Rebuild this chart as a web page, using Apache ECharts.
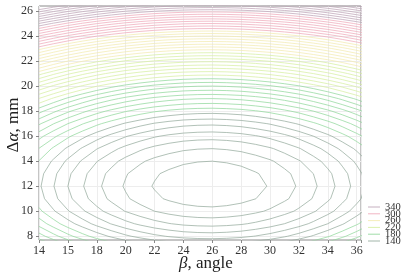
<!DOCTYPE html>
<html><head><meta charset="utf-8">
<script src="https://cdn.jsdelivr.net/npm/echarts@6/dist/echarts.min.js"></script>
<style>html,body{margin:0;padding:0;background:#fff}#c{width:411px;height:274px}</style>
</head><body><div id="c"></div>
<script>
// ---- data ----
// surface z(beta, alpha) = baseLevel + betaTerm(beta) + alphaTerm(alpha)
const baseLevel = 141;
const betaNodes = [14,15,16,17,18,19,20,21,22,23,24,25,26,27,28,29,30,31,32,33,34,35,36,37];
const betaTerm  = [34.8,29.2,24.0,19.4,15.2,11.6,8.4,5.8,3.6,2.0,0.8,0.2,0.0,0.4,1.2,2.6,4.4,6.8,9.6,13.0,16.8,21.2,26.0,31.4];
const alphaNodes = [7,8,9,10,11,12,13,14,15,16,17,18,19,20,21,22,23,24,25,26,27];
const alphaTerm  = [33.8,21.6,12.2,5.4,1.35,0,1,4,9,16,25,36,49,64,81,100,121,144,169,196,225];
const contourLevels = [145,150,155,160,165,170,175,180,185,190,195,200,205,210,215,220,225,230,235,240,245,250,255,260,265,270,275,280,285,290,295,300,305,310,315,320,325,330,335,340,345,350,355,360,365,370,375];
const legendLevels = [340,300,260,220,180,140];
const xTickLabels = ['14','15','18','20','22','24','26','28','30','32','34','36'];
const yTickLabels = ['8','10','12','14','16','18','20','22','24','26'];

// ---- styles ----
const palette = {140:'#93a99b',180:'#8fd79a',220:'#d6eea0',260:'#f3eaae',300:'#eea8b9',340:'#bca2b5'};
const lineOpacity = 0.72;
function colorFor(L){
  let best = Math.min.apply(null, legendLevels);
  legendLevels.forEach(v=>{ if(v<=L && v>best) best=v; });
  return palette[best];
}

function zAt(i,j){ return baseLevel + betaTerm[i] + alphaTerm[j]; }

function contour(L){
  const pts={}, adj={};
  function cross(key,x1,y1,z1,x2,y2,z2){
    if(!(key in pts)){ const t=(L-z1)/(z2-z1); pts[key]=[x1+(x2-x1)*t, y1+(y2-y1)*t]; }
    return key;
  }
  function link(a,b){ (adj[a]=adj[a]||[]).push(b); (adj[b]=adj[b]||[]).push(a); }
  for(let i=0;i<betaNodes.length-1;i++){
    for(let j=0;j<alphaNodes.length-1;j++){
      const x0=betaNodes[i],x1=betaNodes[i+1],y0=alphaNodes[j],y1=alphaNodes[j+1];
      const za=zAt(i,j), zb=zAt(i+1,j), zc=zAt(i+1,j+1), zd=zAt(i,j+1);
      const e=[];
      if((za<L)!==(zb<L)) e.push(cross('H'+i+'_'+j,x0,y0,za,x1,y0,zb));
      if((zb<L)!==(zc<L)) e.push(cross('V'+(i+1)+'_'+j,x1,y0,zb,x1,y1,zc));
      if((zd<L)!==(zc<L)) e.push(cross('H'+i+'_'+(j+1),x0,y1,zd,x1,y1,zc));
      if((za<L)!==(zd<L)) e.push(cross('V'+i+'_'+j,x0,y0,za,x0,y1,zd));
      if(e.length===2) link(e[0],e[1]);
      else if(e.length===4){ link(e[0],e[1]); link(e[2],e[3]); }
    }
  }
  const visited=new Set(), out=[];
  function walk(start){
    const path=[pts[start]]; visited.add(start);
    let prev=null, cur=start;
    while(true){
      const nb=(adj[cur]||[]).find(n=>n!==prev && !visited.has(n));
      if(nb===undefined){
        if(path.length>2 && adj[cur].includes(start)) path.push(pts[start]);
        break;
      }
      visited.add(nb); path.push(pts[nb]); prev=cur; cur=nb;
    }
    return path;
  }
  const keys=Object.keys(adj);
  keys.filter(k=>adj[k].length===1).forEach(k=>{ if(!visited.has(k)) out.push(walk(k)); });
  keys.forEach(k=>{ if(!visited.has(k)) out.push(walk(k)); });
  return out;
}

const lineData=[];
contourLevels.forEach(L=>{
  contour(L).forEach(p=>{
    lineData.push({coords:p, lineStyle:{color:colorFor(L), width:1, opacity:lineOpacity}});
  });
});

const serif='"Liberation Serif","DejaVu Serif",serif';
const legendGraphics=[];
legendLevels.forEach((v,k)=>{
  const y=207+k*6.8;
  legendGraphics.push({type:'line', shape:{x1:368,y1:y,x2:380,y2:y}, style:{stroke:palette[v], lineWidth:1, opacity:0.85}, silent:true});
  legendGraphics.push({type:'text', x:385, y:y, style:{text:String(v), fontFamily:serif, fontSize:10.5, fill:'#333', verticalAlign:'middle'}, silent:true});
});

const chart=echarts.init(document.getElementById('c'),null,{renderer:'canvas'});
chart.setOption({
  animation:false,
  backgroundColor:'#fff',
  grid:[
    {left:39,right:50,top:6,bottom:34,show:true,borderColor:'#8a8a8a',borderWidth:1,backgroundColor:'#fff'},
    {left:39,right:50,top:11,bottom:38,show:false}
  ],
  xAxis:[
    {gridIndex:0,type:'value',min:14,max:36.3,interval:2,
     axisLine:{show:false},
     axisTick:{show:true,length:3,lineStyle:{color:'#888'}},
     axisLabel:{margin:5,fontFamily:serif,fontSize:12,color:'#333',
       formatter:v=>{const k=(v-14)/2; return (Math.abs(k-Math.round(k))<1e-6 && xTickLabels[Math.round(k)]!==undefined)?xTickLabels[Math.round(k)]:'';}},
     splitLine:{show:true,lineStyle:{color:'#ededed',width:1}}},
    {gridIndex:1,type:'value',min:0,max:1,show:false}
  ],
  yAxis:[
    {gridIndex:0,type:'value',min:7.7,max:26.4,axisLine:{show:false},axisTick:{show:false},axisLabel:{show:false},splitLine:{show:false}},
    {gridIndex:1,type:'value',min:8,max:26,interval:2,
     axisLine:{show:false},
     axisTick:{show:true,length:3,lineStyle:{color:'#888'}},
     axisLabel:{margin:6,fontFamily:serif,fontSize:12,color:'#333',
       formatter:v=>{const k=(v-8)/2; return yTickLabels[Math.round(k)]||'';}},
     splitLine:{show:true,lineStyle:{color:'#ededed',width:1}}}
  ],
  graphic:[
    {type:'text',x:206,y:264,style:{text:'{i|β}, angle',fontFamily:serif,fontSize:17,fill:'#222',align:'center',verticalAlign:'middle',
      rich:{i:{fontStyle:'italic',fontFamily:serif,fontSize:17,fill:'#222'}}},silent:true},
    {type:'text',x:14,y:125,rotation:Math.PI/2,style:{text:'Δ{i|α}, mm',fontFamily:serif,fontSize:17,fill:'#222',align:'center',verticalAlign:'middle',
      rich:{i:{fontStyle:'italic',fontFamily:serif,fontSize:17,fill:'#222'}}},silent:true}
  ].concat(legendGraphics),
  series:[{
    type:'lines',coordinateSystem:'cartesian2d',xAxisIndex:0,yAxisIndex:0,
    polyline:true,clip:true,silent:true,
    lineStyle:{width:1,opacity:lineOpacity},
    data:lineData
  }]
});
</script>
</body></html>
